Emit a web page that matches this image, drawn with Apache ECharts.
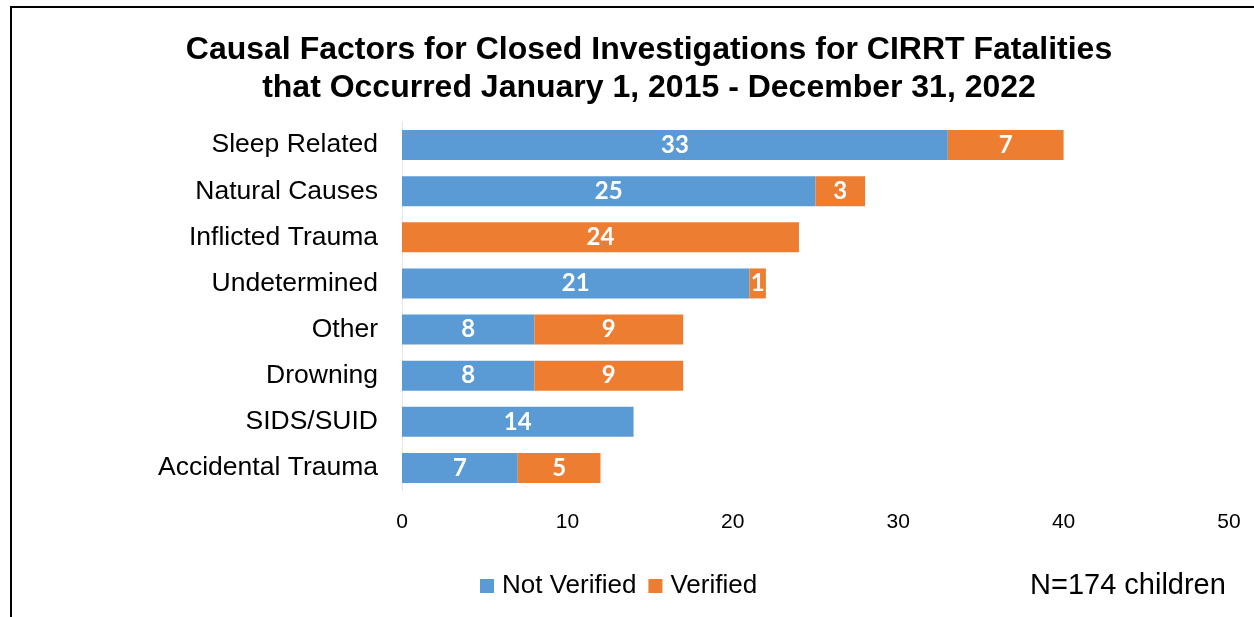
<!DOCTYPE html>
<html>
<head>
<meta charset="utf-8">
<script src="https://cdn.jsdelivr.net/npm/echarts@6/dist/echarts.min.js"></script>
<style>
  html, body { margin: 0; padding: 0; background: #fff; }
  #chart { width: 1254px; height: 617px; }
</style>
</head>
<body>
<div id="chart"></div>
<script>
// data
const categories = ['Sleep Related', 'Natural Causes', 'Inflicted Trauma', 'Undetermined', 'Other', 'Drowning', 'SIDS/SUID', 'Accidental Trauma']
const notVerified = [33, 25, 0, 21, 8, 8, 14, 7]
const verified = [7, 3, 24, 1, 9, 9, 0, 5]
const xTicks = [0, 10, 20, 30, 40, 50]

const chart = echarts.init(document.getElementById('chart'))

const barLabel = {
  show: true,
  position: 'inside',
  color: '#fff',
  fontFamily: 'Lato',
  fontWeight: 'bold',
  fontSize: 24,
  formatter: p => (p.value ? p.value : '')
}

chart.setOption({
  animation: false,
  title: {
    text: 'Causal Factors for Closed Investigations for CIRRT Fatalities\nthat Occurred January 1, 2015 - December 31, 2022',
    left: 644,
    top: 26,
    textAlign: 'center',
    textStyle: {
      fontFamily: 'Liberation Sans',
      fontWeight: 'bold',
      fontSize: 32,
      lineHeight: 38,
      color: '#000'
    }
  },
  grid: {
    left: 402,
    right: 25,
    top: 122,
    bottom: 126,
    containLabel: false
  },
  xAxis: {
    type: 'value',
    min: xTicks[0],
    max: xTicks[xTicks.length - 1],
    interval: 10,
    axisLine: { show: false },
    axisTick: { show: false },
    splitLine: { show: false },
    axisLabel: {
      margin: 21,
      fontFamily: 'Liberation Sans',
      fontSize: 21,
      color: '#000'
    }
  },
  yAxis: {
    type: 'category',
    data: categories,
    inverse: true,
    axisLine: { show: true, lineStyle: { color: '#e6e6e6', width: 1 } },
    axisTick: { show: false },
    axisLabel: {
      margin: 24,
      fontFamily: 'Liberation Sans',
      fontSize: 26.5,
      color: '#000'
    }
  },
  legend: {
    data: ['Not Verified', 'Verified'],
    left: 475,
    top: 568,
    icon: 'rect',
    itemWidth: 14,
    itemHeight: 14,
    itemGap: 12,
    textStyle: {
      fontFamily: 'Liberation Sans',
      fontSize: 26,
      color: '#000',
      padding: [0, 0, 0, 3]
    }
  },
  graphic: [
    {
      type: 'polyline',
      shape: { points: [[11, 617], [11, 7], [1254, 7]] },
      style: { stroke: '#000', lineWidth: 2, fill: null }
    },
    {
      type: 'text',
      left: 1030,
      top: 571,
      style: {
        text: 'N=174 children',
        font: '29px "Liberation Sans"',
        fill: '#000'
      }
    }
  ],
  series: [
    {
      name: 'Not Verified',
      type: 'bar',
      stack: 'total',
      barWidth: 30,
      itemStyle: { color: '#5B9BD5' },
      label: barLabel,
      data: notVerified
    },
    {
      name: 'Verified',
      type: 'bar',
      stack: 'total',
      barWidth: 30,
      itemStyle: { color: '#ED7D31' },
      label: barLabel,
      data: verified
    }
  ]
})
</script>
</body>
</html>
